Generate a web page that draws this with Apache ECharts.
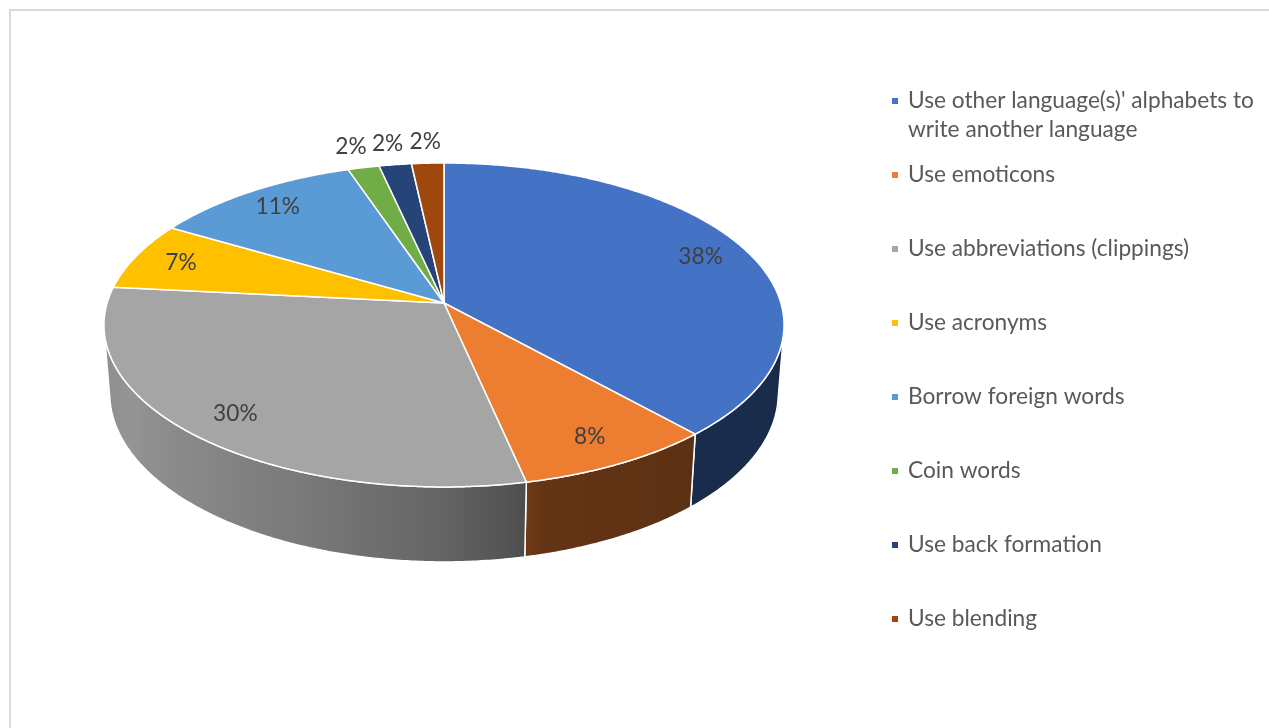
<!DOCTYPE html>
<html>
<head>
<meta charset="utf-8">
<script src="https://cdn.jsdelivr.net/npm/echarts@6/dist/echarts.min.js"></script>
<style>
  html, body { margin: 0; padding: 0; background: #ffffff; }
  #chart { width: 1269px; height: 728px; }
</style>
</head>
<body>
<div id="chart"></div>
<script>
// Strategies used, share of responses (%)
const categories = [
  "Use other language(s)' alphabets to write another language",
  "Use emoticons",
  "Use abbreviations (clippings)",
  "Use acronyms",
  "Borrow foreign words",
  "Coin words",
  "Use back formation",
  "Use blending"
];
const shares = [38.3, 8.3, 30.0, 6.8, 11.4, 1.7, 1.75, 1.75];
const colors = ['#4472C4', '#ED7D31', '#A5A5A5', '#FFC000', '#5B9BD5', '#70AD47', '#264478', '#9E480E'];

// Camera for the tilted disc: centre on screen, focal scale, camera distance,
// tilt of the view in degrees and thickness of the disc (in radius units).
const view = { cx: 444, cy: 303, k: 2189, dist: 6.498, tilt: 28.16, depth: 0.233 };
const sinT = Math.sin(view.tilt * Math.PI / 180);
const cosT = Math.cos(view.tilt * Math.PI / 180);

// Angle in degrees, clockwise from the far edge of the disc; r in radius units;
// h is height (0 = top face, negative = below it).
function project(deg, r, h) {
  const a = deg * Math.PI / 180;
  const x = r * Math.sin(a);
  const z = r * Math.cos(a);
  const v = z * sinT + h * cosT;
  const w = view.dist + z * cosT - h * sinT;
  return [view.cx + view.k * x / w, view.cy - view.k * v / w];
}

// Outer wall faces the camera only where cos(angle) < -1 / (dist * cos(tilt)).
const wallEdge = Math.acos(-1 / (view.dist * cosT)) * 180 / Math.PI;
const wallLo = wallEdge, wallHi = 360 - wallEdge;

// Brightness of the outer wall by angle (light from the front left).
const lightTable = [[90, 0.37], [140, 0.39], [165, 0.42], [170, 0.50], [182, 0.62],
                    [202, 0.74], [240, 0.90], [262, 0.84], [270, 0.84]];
function light(deg) {
  if (deg <= lightTable[0][0]) return lightTable[0][1];
  for (let i = 1; i < lightTable.length; i++) {
    const [d1, l1] = lightTable[i];
    const [d0, l0] = lightTable[i - 1];
    if (deg <= d1) return l0 + (l1 - l0) * (deg - d0) / (d1 - d0);
  }
  return lightTable[lightTable.length - 1][1];
}
function shade(hex, f) {
  const n = parseInt(hex.slice(1), 16);
  const r = Math.round(((n >> 16) & 255) * f);
  const g = Math.round(((n >> 8) & 255) * f);
  const b = Math.round((n & 255) * f);
  return 'rgb(' + r + ',' + g + ',' + b + ')';
}

const total = shares.reduce((s, v) => s + v, 0);

function sliceRenderer(idx) {
  return function (params, api) {
    const value = api.value(0);
    let before = 0;
    for (let j = 0; j < idx; j++) before += shares[j];
    const a0 = before / total * 360;
    const a1 = (before + value) / total * 360;
    const color = colors[idx];
    const children = [];

    // outer wall
    const lo = Math.max(a0, wallLo), hi = Math.min(a1, wallHi);
    if (hi > lo) {
      const n = Math.max(2, Math.ceil((hi - lo) / 0.5));
      const top = [], bottom = [], angles = [];
      for (let i = 0; i <= n; i++) {
        const t = lo + (hi - lo) * i / n;
        angles.push(t);
        top.push(project(t, 1, 0));
        bottom.push(project(t, 1, -view.depth));
      }
      const pts = top.concat(bottom.slice().reverse());
      let minX = Infinity, maxX = -Infinity;
      pts.forEach(p => { minX = Math.min(minX, p[0]); maxX = Math.max(maxX, p[0]); });
      const span = Math.max(1e-6, maxX - minX);
      const stops = [];
      const step = Math.max(1, Math.floor(n / 24));
      for (let i = 0; i <= n; i += step) {
        stops.push({ offset: Math.min(1, Math.max(0, (top[i][0] - minX) / span)), color: shade(color, light(angles[i])) });
      }
      stops.push({ offset: Math.min(1, Math.max(0, (top[n][0] - minX) / span)), color: shade(color, light(angles[n])) });
      stops.sort((p, q) => p.offset - q.offset);
      stops[0].offset = 0;
      stops[stops.length - 1].offset = 1;
      children.push({
        type: 'polygon',
        shape: { points: pts },
        style: {
          fill: new echarts.graphic.LinearGradient(0, 0, 1, 0, stops),
          stroke: '#ffffff', lineWidth: 1.5, lineJoin: 'round'
        }
      });
    }

    // top face
    const face = [project(0, 0, 0)];
    const m = Math.max(2, Math.ceil((a1 - a0) / 0.5));
    for (let i = 0; i <= m; i++) face.push(project(a0 + (a1 - a0) * i / m, 1, 0));
    children.push({
      type: 'polygon',
      shape: { points: face },
      style: { fill: color, stroke: '#ffffff', lineWidth: 1.5, lineJoin: 'round' }
    });

    // percentage label: inside the slice, or just beyond the rim for thin slices
    const pct = Math.round(value / total * 100);
    const mid = (a0 + a1) / 2;
    const at = project(mid, pct < 3 ? 1.18 : 0.85, 0);
    children.push({
      type: 'text',
      x: at[0], y: at[1],
      style: {
        text: pct + '%', fill: '#404040', fontSize: 22.7, fontFamily: 'Lato',
        align: 'center', verticalAlign: 'middle'
      }
    });

    return { type: 'group', children: children };
  };
}

// Long legend entries wrap onto a second line. A blank leading line keeps the
// first line of a wrapped entry level with its marker while the second hangs below.
const wrapLimit = 36;
function wrapName(name) {
  if (name.length <= wrapLimit) return name;
  const cut = name.lastIndexOf(' ', wrapLimit);
  return '\n' + name.slice(0, cut) + '\n' + name.slice(cut + 1);
}

// Every legend entry takes the same 87px slot.
const legendData = categories.map(name => name.length > wrapLimit
  ? { name: name, textStyle: { lineHeight: 29 } }
  : name);

const chart = echarts.init(document.getElementById('chart'), null, { renderer: 'canvas' });
chart.setOption({
  animation: false,
  backgroundColor: '#ffffff',
  graphic: [{
    type: 'rect', silent: true, z: -10,
    shape: { x: 10, y: 10, width: 1400, height: 1000 },
    style: { fill: 'none', stroke: '#d9d9d9', lineWidth: 2 }
  }],
  legend: {
    orient: 'vertical',
    left: 892,
    top: 57.5,
    padding: 0,
    itemGap: -13,
    itemWidth: 6,
    itemHeight: 6,
    icon: 'rect',
    data: legendData,
    formatter: wrapName,
    textStyle: {
      fontFamily: 'Lato', fontSize: 22.7, color: '#595959', lineHeight: 87,
      padding: [0, 0, 0, 5]
    }
  },
  series: categories.map((name, i) => ({
    type: 'custom',
    name: name,
    coordinateSystem: 'none',
    itemStyle: { color: colors[i] },
    data: [[shares[i]]],
    renderItem: sliceRenderer(i)
  }))
});
</script>
</body>
</html>
